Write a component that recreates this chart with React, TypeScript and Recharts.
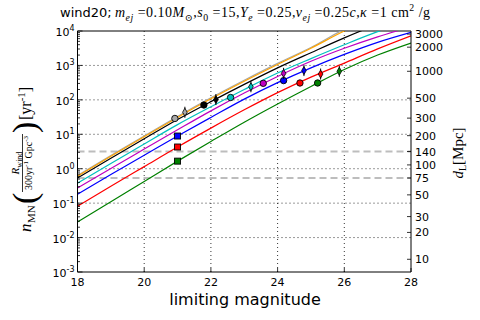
import React from 'react';
import { ComposedChart, Line, Scatter, XAxis, YAxis, ReferenceLine } from 'recharts';

// limiting magnitude grid
const mags = [18, 19, 20, 21, 22, 23, 24, 25, 26, 27, 28];
// rates (yr^-1)
const grayRate = [0.63, 2.4, 8.9, 33, 115, 372, 1150, 3310, 11200, 28200, 70800];
const orangeRate = [0.6, 2.29, 8.5, 30.9, 107, 347, 1070, 3160, 10000, 26300, 63100];
const blackRate = [0.54, 2.0, 7.4, 26.9, 89, 282, 851, 2340, 6310, 15800, 35500];
const cyanRate = [0.38, 1.41, 5.25, 19.1, 63, 200, 603, 1580, 3980, 9550, 20000];
const magentaRate = [0.275, 1.02, 3.72, 13.5, 47.9, 158, 479, 1320, 3160, 6760, 13200];
const blueRate = [0.182, 0.676, 2.45, 8.9, 30.9, 105, 316, 851, 2090, 4680, 9120];
const redRate = [0.081, 0.309, 1.15, 4.27, 15.1, 51.3, 162, 457, 1170, 3020, 7240];
const greenRate = [0.0282, 0.11, 0.427, 1.66, 6.17, 22.4, 75.9, 245, 759, 2000, 4470];

const seriesKeys = ['gray', 'orange', 'black', 'cyan', 'magenta', 'blue', 'red', 'green'];
const seriesRates = [grayRate, orangeRate, blackRate, cyanRate, magentaRate, blueRate, redRate, greenRate];
const seriesColors: Record<string, string> = {
  gray: '#a8a8a8', orange: '#ffa500', black: '#000000', cyan: '#00bfbf',
  magenta: '#bf00bf', blue: '#0000ff', red: '#ff0000', green: '#008000',
};

// markers
const squareKeys = ['blue', 'red', 'green'];
const squareMags = [21, 21, 21];
const squareRates = [8.9, 4.27, 1.66];

const circleKeys = ['gray', 'black', 'cyan', 'magenta', 'blue', 'red', 'green'];
const circleMags = [20.92, 21.79, 22.59, 23.57, 24.18, 24.67, 25.2];
const circleRates = [28.8, 70.8, 117, 302, 363, 309, 309];

const diamondKeys = ['gray', 'black', 'cyan', 'magenta', 'blue', 'red', 'green'];
const diamondMags = [21.22, 22.15, 23.2, 24.18, 24.79, 25.29, 25.85];
const diamondRates = [43.7, 102, 240, 589, 708, 562, 676];

// axes
const xTicks = [18, 20, 22, 24, 26, 28];
const xGrid = [20, 22, 24, 26];
const yGrid = [1e-2, 1e-1, 1, 10, 100, 1000];
const decadeExps = [-3, -2, -1, 0, 1, 2, 3, 4];
const dLLabels = ['3000', '2000', '1000', '500', '300', '200', '140', '100', '75', '50', '30', '20', '10'];
const dLRatePos = [8130, 3390, 676, 112, 29.5, 9.12, 3.16, 1.29, 0.537, 0.174, 0.0407, 0.0141, 0.00234];
const horizonLabels = ['140', '75'];

const leftTicks: number[] = [];
decadeExps.forEach((e) => {
  if (e === 4) { leftTicks.push(1e4); return; }
  for (let k = 1; k <= 9; k++) leftTicks.push(parseFloat((k * Math.pow(10, e)).toPrecision(3)));
});

const table = mags.map((m, i) => {
  const row: Record<string, number> = { mag: m };
  seriesKeys.forEach((k, j) => { row[k] = seriesRates[j][i]; });
  return row;
});

const SANS = 'DejaVu Sans, sans-serif';
const SERIF = 'Liberation Serif, DejaVu Serif, serif';

const LeftTick = (props: any) => {
  const { x, y, payload } = props;
  const v = payload.value;
  const lg = Math.log10(v);
  const e = Math.round(lg);
  const major = Math.abs(lg - e) < 1e-6;
  return (
    <g>
      <line x1={x} x2={x + (major ? 5 : 2.5)} y1={y} y2={y} stroke="#000" strokeWidth={0.8} />
      {major && (
        <text x={x - 3} y={y + 5} textAnchor="end" fontFamily={SANS} fontSize={11} fill="#000">
          10<tspan dy={-5} fontSize={8}>{String(e)}</tspan>
        </text>
      )}
    </g>
  );
};

const RightTick = (props: any) => {
  const { x, y, payload } = props;
  const idx = dLRatePos.indexOf(payload.value);
  return (
    <g>
      <line x1={x} x2={x - 4} y1={y} y2={y} stroke="#000" strokeWidth={0.8} />
      <text x={x + 4} y={y + 4} textAnchor="start" fontFamily={SANS} fontSize={11} fill="#000">
        {idx >= 0 ? dLLabels[idx] : ''}
      </text>
    </g>
  );
};

const BottomTick = (props: any) => {
  const { x, y, payload } = props;
  return (
    <g>
      <line x1={x} x2={x} y1={y} y2={y - 4} stroke="#000" strokeWidth={0.8} />
      <text x={x} y={y + 14} textAnchor="middle" fontFamily={SANS} fontSize={11} fill="#000">
        {payload.value}
      </text>
    </g>
  );
};

const circleShape = (color: string) => (p: any) => (
  <circle cx={p.cx} cy={p.cy} r={3.2} fill={color} stroke="#000" strokeWidth={0.9} />
);
const squareShape = (color: string) => (p: any) => (
  <rect x={p.cx - 3} y={p.cy - 3} width={6} height={6} fill={color} stroke="#000" strokeWidth={0.9} />
);
const diamondShape = (color: string) => (p: any) => (
  <g>
    <line x1={p.cx} x2={p.cx} y1={p.cy - 5.5} y2={p.cy + 5.5} stroke="#000" strokeWidth={1} />
    <path
      d={`M${p.cx},${p.cy - 4} L${p.cx + 2.3},${p.cy} L${p.cx},${p.cy + 4} L${p.cx - 2.3},${p.cy} Z`}
      fill={color} stroke="#000" strokeWidth={0.8}
    />
  </g>
);

type Seg = [string, string];
const MathText = ({ x, y, segs, size, textLength, family = SERIF }: any) => {
  let cur = 0;
  const spans = (segs as Seg[]).map(([t, mode], i) => {
    let target = 0;
    let fs = size;
    if (mode.startsWith('sub')) { target = 0.3 * size; fs = 0.7 * size; }
    if (mode.startsWith('sup')) { target = -0.42 * size; fs = 0.7 * size; }
    const dy = target - cur;
    cur = target;
    const italic = mode === 'i' || mode === 'subi' || mode === 'supi';
    return (
      <tspan key={i} dy={dy} fontSize={fs} fontStyle={italic ? 'italic' : 'normal'}
        fontFamily={mode === 'sans' ? SANS : family}>{t}</tspan>
    );
  });
  return (
    <text x={x} y={y} fontSize={size} fill="#000" {...(textLength ? { textLength, lengthAdjust: 'spacing' } : {})}>
      {spans}
    </text>
  );
};

const titleSegs: Seg[] = [
  ['m', 'i'], ['ej', 'subi'], [' =0.10', 'n'], ['M', 'i'], ['⊙', 'sub'], [',', 'n'], ['s', 'i'], ['0', 'sub'],
  [' =15,', 'n'], ['Y', 'i'], ['e', 'subi'], [' =0.25,', 'n'], ['v', 'i'], ['ej', 'subi'], [' =0.25', 'n'],
  ['c', 'i'], [',', 'n'], ['κ', 'i'], [' =1 cm', 'n'], ['2', 'sup'], [' /g', 'n'],
];

const YLabel = () => (
  <g transform="translate(0,232) rotate(-90)">
    <text x={0} y={31} fontFamily={SERIF} fontStyle="italic" fontSize={17}>n</text>
    <text x={9} y={35} fontFamily={SERIF} fontSize={11}>MN</text>
    <text x={28} y={36} fontFamily={SERIF} fontSize={34}>(</text>
    <text x={69} y={19} fontFamily={SERIF} fontSize={11} textAnchor="middle">
      <tspan fontStyle="italic">R</tspan><tspan dy={3} fontSize={8}>wind</tspan>
    </text>
    <line x1={40} x2={98} y1={22.5} y2={22.5} stroke="#000" strokeWidth={0.8} />
    <text x={69} y={32} fontFamily={SERIF} fontSize={10} textAnchor="middle">
      300yr<tspan dy={-4} fontSize={7}>-1</tspan><tspan dy={4}> Gpc</tspan><tspan dy={-4} fontSize={7}>-3</tspan>
    </text>
    <text x={99} y={36} fontFamily={SERIF} fontSize={34}>)</text>
    <text x={112} y={31} fontFamily={SERIF} fontSize={16}>
      [yr<tspan dy={-6} fontSize={11}>-1</tspan><tspan dy={6}>]</tspan>
    </text>
  </g>
);

export default function App() {
  return (
    <div style={{ position: 'absolute', left: 0, top: 0, width: 480, height: 320, background: '#fff' }}>
      <ComposedChart width={480} height={320} data={table} margin={{ top: 31, right: 0, bottom: 0, left: 0 }}>
        <XAxis dataKey="mag" type="number" domain={[18, 28]} ticks={xTicks} interval={0} height={48}
          tickSize={0} tickMargin={0} tick={BottomTick} tickLine={false} axisLine={{ stroke: '#000', strokeWidth: 1 }}
          allowDataOverflow />
        <YAxis type="number" scale="log" domain={[1e-3, 1e4]} allowDataOverflow ticks={leftTicks} interval={0}
          width={77.5} tickSize={0} tickMargin={0} tick={LeftTick} tickLine={false}
          axisLine={{ stroke: '#000', strokeWidth: 1 }} />
        <YAxis yAxisId="r" orientation="right" type="number" scale="log" domain={[1e-3, 1e4]} allowDataOverflow
          ticks={dLRatePos} interval={0} width={69} tickSize={0} tickMargin={0} tick={RightTick} tickLine={false}
          axisLine={{ stroke: '#000', strokeWidth: 1 }} />
        {xGrid.map((g) => (
          <ReferenceLine key={'xg' + g} x={g} stroke="#000" strokeWidth={0.8} strokeDasharray="1 3" />
        ))}
        {yGrid.map((g) => (
          <ReferenceLine key={'yg' + g} y={g} stroke="#000" strokeWidth={0.8} strokeDasharray="1 3" />
        ))}
        {horizonLabels.map((h) => (
          <ReferenceLine key={'hz' + h} y={dLRatePos[dLLabels.indexOf(h)]} stroke="#bdbdbd" strokeWidth={2}
            strokeDasharray="7 4" />
        ))}
        <ReferenceLine y={1e4} stroke="#000" strokeWidth={1} />
        {seriesKeys.map((k) => (
          <Line key={k} type="monotone" dataKey={k} stroke={seriesColors[k]} strokeWidth={1.2} dot={false}
            isAnimationActive={false} />
        ))}
        {squareKeys.map((k, i) => (
          <Scatter key={'sq' + k} data={[{ mag: squareMags[i], v: squareRates[i] }]} dataKey="v"
            shape={squareShape(seriesColors[k])} isAnimationActive={false} />
        ))}
        {circleKeys.map((k, i) => (
          <Scatter key={'ci' + k} data={[{ mag: circleMags[i], v: circleRates[i] }]} dataKey="v"
            shape={circleShape(seriesColors[k])} isAnimationActive={false} />
        ))}
        {diamondKeys.map((k, i) => (
          <Scatter key={'di' + k} data={[{ mag: diamondMags[i], v: diamondRates[i] }]} dataKey="v"
            shape={diamondShape(seriesColors[k])} isAnimationActive={false} />
        ))}
      </ComposedChart>
      <svg width={480} height={320} style={{ position: 'absolute', left: 0, top: 0, pointerEvents: 'none' }}>
        <text x={60} y={17} fontFamily={SANS} fontSize={13} fill="#000">wind20;</text>
        <MathText x={115} y={17} size={14} segs={titleSegs} textLength={315} />
        <text x={245} y={305} textAnchor="middle" fontFamily={SANS} fontSize={16} fill="#000">limiting magnitude</text>
        <YLabel />
        <g transform="translate(463,153) rotate(-90)">
          <text x={0} y={0} textAnchor="middle" fontFamily={SERIF} fontSize={15} fill="#000">
            <tspan fontStyle="italic">d</tspan><tspan dy={3} fontSize={10}>L</tspan><tspan dy={-3}>[Mpc]</tspan>
          </text>
        </g>
      </svg>
    </div>
  );
}
